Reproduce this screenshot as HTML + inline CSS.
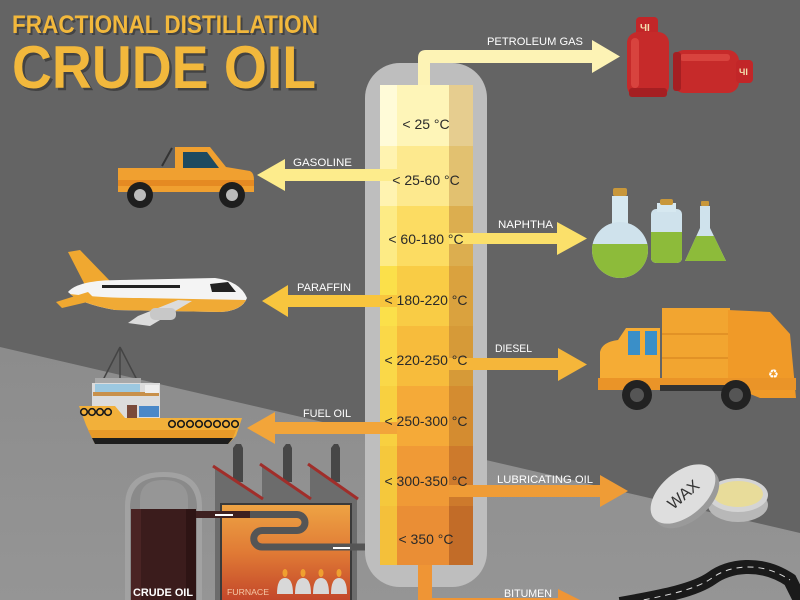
<!DOCTYPE html>
<html><head><meta charset="utf-8"><style>
html,body{margin:0;padding:0;width:800px;height:600px;overflow:hidden;background:#646464}
svg{display:block}
text{font-family:"Liberation Sans",sans-serif}
</style></head><body>
<svg width="800" height="600" viewBox="0 0 800 600" xmlns="http://www.w3.org/2000/svg">
<defs>
<linearGradient id="furn" x1="0" y1="0" x2="0" y2="1"><stop offset="0" stop-color="#eea444"/><stop offset="0.5" stop-color="#e07a35"/><stop offset="1" stop-color="#c2452a"/></linearGradient>
<linearGradient id="bgl" x1="0" y1="0" x2="0" y2="1"><stop offset="0" stop-color="#8c8c8c"/><stop offset="1" stop-color="#959595"/></linearGradient>
<clipPath id="fl1"><rect x="580" y="244" width="80" height="40"/></clipPath>
<clipPath id="fl2"><rect x="640" y="232" width="60" height="40"/></clipPath>
<clipPath id="fl3"><rect x="680" y="236" width="60" height="40"/></clipPath>
</defs>
<!-- background -->
<rect width="800" height="600" fill="#646464"/>
<polygon points="0,347 800,533 800,600 0,600" fill="url(#bgl)"/>

<!-- title -->
<text x="14" y="35" font-size="25" font-weight="bold" fill="#2e2e2e" opacity="0.6" textLength="306" lengthAdjust="spacingAndGlyphs">FRACTIONAL DISTILLATION</text>
<text x="12" y="33" font-size="25" font-weight="bold" fill="#f2b83c" textLength="306" lengthAdjust="spacingAndGlyphs">FRACTIONAL DISTILLATION</text>
<text x="14.5" y="90.5" font-size="60" font-weight="bold" fill="#2e2e2e" opacity="0.6" textLength="304" lengthAdjust="spacingAndGlyphs">CRUDE OIL</text>
<text x="12" y="88" font-size="60" font-weight="bold" fill="#f2b83c" textLength="304" lengthAdjust="spacingAndGlyphs">CRUDE OIL</text>

<!-- crude oil tank -->
<path d="M125 600 V506 Q125 472 163.5 472 Q202 472 202 506 V600 Z" fill="#a2a2a2"/>
<path d="M130 600 V508 Q130 477 163.5 477 Q197 477 197 508 V600 Z" fill="#8a8a8a"/>
<path d="M140 509 V500 Q140 480 163 480 Q188 480 188 500 V509 Z" fill="#969696"/>
<rect x="131" y="509" width="65" height="91" fill="#3b1c1c"/>
<rect x="131" y="509" width="10" height="91" fill="#4a2424"/>
<rect x="186" y="509" width="10" height="91" fill="#2e1414"/>
<text x="133" y="596" font-size="11" font-weight="bold" fill="#fff" textLength="60" lengthAdjust="spacingAndGlyphs">CRUDE OIL</text>

<!-- factory -->
<polygon points="233,482 233,448 236,444 241,444 243,448 243,482" fill="#474747"/>
<polygon points="283,482 283,448 286,444 290,444 292,448 292,482" fill="#474747"/>
<polygon points="331,482 331,448 334,444 338,444 340,448 340,482" fill="#474747"/>
<polygon points="215,600 215,467 262,498 262,465 310,498 310,465 357,498 357,600" fill="#6c6c6c"/>
<g stroke="#a02e2a" stroke-width="3"><line x1="213" y1="466" x2="263" y2="499"/><line x1="260" y1="464" x2="311" y2="499"/><line x1="308" y1="464" x2="358" y2="499"/></g>
<rect x="221" y="504" width="130" height="98" fill="url(#furn)" stroke="#3a3a3a" stroke-width="2"/>
<text x="227" y="595" font-size="8" fill="#f5c8a8" textLength="42" lengthAdjust="spacingAndGlyphs">FURNACE</text>
<g fill="#d8d8d8">
<path d="M277 594 Q277 578 285 578 Q293 578 293 594 Z"/>
<path d="M295 594 Q295 578 303 578 Q311 578 311 594 Z"/>
<path d="M313 594 Q313 578 321 578 Q329 578 329 594 Z"/>
<path d="M331 594 Q331 578 339 578 Q347 578 347 594 Z"/>
</g>
<g fill="#f0a030"><ellipse cx="285" cy="573" rx="2.5" ry="4"/><ellipse cx="303" cy="573" rx="2.5" ry="4"/><ellipse cx="321" cy="573" rx="2.5" ry="4"/><ellipse cx="339" cy="573" rx="2.5" ry="4"/></g>
<!-- pipe coil -->
<path d="M196 514.5 L297 514.5 A8 8 0 0 1 297 530.5 L262 530.5 A8.25 8.25 0 0 0 262 547 L380 547" fill="none" stroke="#555" stroke-width="7"/>
<path d="M196 514.5 L250 514.5" fill="none" stroke="#3e2020" stroke-width="7"/>
<line x1="215" y1="515" x2="233" y2="515" stroke="#fff" stroke-width="2"/>
<line x1="333" y1="548" x2="350" y2="548" stroke="#fff" stroke-width="2"/>

<!-- column -->
<rect x="365" y="63" width="122" height="524" rx="35" fill="#bebebe"/>
<g>
<rect x="380" y="85" width="93" height="61" fill="#fef5b8"/><rect x="380" y="85" width="17" height="61" fill="#fffbd8"/><rect x="449" y="85" width="24" height="61" fill="#e6cd8f"/>
<rect x="380" y="146" width="93" height="60" fill="#fde98e"/><rect x="380" y="146" width="17" height="60" fill="#fff3b0"/><rect x="449" y="146" width="24" height="60" fill="#e2c170"/>
<rect x="380" y="206" width="93" height="60" fill="#fcdc62"/><rect x="380" y="206" width="17" height="60" fill="#fdeb85"/><rect x="449" y="206" width="24" height="60" fill="#dcae4f"/>
<rect x="380" y="266" width="93" height="60" fill="#f9cc45"/><rect x="380" y="266" width="17" height="60" fill="#fbe04a"/><rect x="449" y="266" width="24" height="60" fill="#daa23e"/>
<rect x="380" y="326" width="93" height="60" fill="#f7bc3c"/><rect x="380" y="326" width="17" height="60" fill="#fad848"/><rect x="449" y="326" width="24" height="60" fill="#d69a38"/>
<rect x="380" y="386" width="93" height="60" fill="#f5aa38"/><rect x="380" y="386" width="17" height="60" fill="#f8d040"/><rect x="449" y="386" width="24" height="60" fill="#d48c30"/>
<rect x="380" y="446" width="93" height="60" fill="#f09a36"/><rect x="380" y="446" width="17" height="60" fill="#f5c83c"/><rect x="449" y="446" width="24" height="60" fill="#cd7a2c"/>
<rect x="380" y="506" width="93" height="59" fill="#ea8e35"/><rect x="380" y="506" width="17" height="59" fill="#f4c03a"/><rect x="449" y="506" width="24" height="59" fill="#c26c28"/>
</g>

<!-- arrows -->
<path d="M418 85 V58 Q418 50 426 50 H592 V40 L620 56.5 L592 73 V63 H430 V85 Z" fill="#fdf3b5"/>
<path d="M397 169 H285 V159 L257 175 L285 191 V181 H397 Z" fill="#fdec8c"/>
<path d="M449 233 H557 V222 L587 238.5 L557 255 V244 H449 Z" fill="#fbe06a"/>
<path d="M397 295 H288 V285 L262 301 L288 317 V307 H397 Z" fill="#f8c53e"/>
<path d="M449 358 H558 V348 L587 364.5 L558 381 V370 H449 Z" fill="#f5b63a"/>
<path d="M397 422 H275 V412 L247 428 L275 444 V434 H397 Z" fill="#f2a53a"/>
<path d="M449 485 H600 V475 L628 491 L600 507 V497 H449 Z" fill="#ef9c36"/>
<path d="M418 565 V600 H432 V565 Z" fill="#ef9535"/>
<path d="M425 598 H558 V589 L592 606 L558 623 V612 H425 Z" fill="#ef9535"/>

<!-- column labels -->
<g font-size="14" fill="#2a2a2a" text-anchor="middle">
<text x="426" y="129">&lt; 25 °C</text>
<text x="426" y="185">&lt; 25-60 °C</text>
<text x="426" y="244">&lt; 60-180 °C</text>
<text x="426" y="305">&lt; 180-220 °C</text>
<text x="426" y="365">&lt; 220-250 °C</text>
<text x="426" y="426">&lt; 250-300 °C</text>
<text x="426" y="486">&lt; 300-350 °C</text>
<text x="426" y="544">&lt; 350 °C</text>
</g>

<!-- arrow labels -->
<g font-size="11" fill="#fff">
<text x="487" y="45" textLength="96" lengthAdjust="spacingAndGlyphs">PETROLEUM GAS</text>
<text x="293" y="166" textLength="59" lengthAdjust="spacingAndGlyphs">GASOLINE</text>
<text x="498" y="228" textLength="55" lengthAdjust="spacingAndGlyphs">NAPHTHA</text>
<text x="297" y="291" textLength="54" lengthAdjust="spacingAndGlyphs">PARAFFIN</text>
<text x="495" y="352" textLength="37" lengthAdjust="spacingAndGlyphs">DIESEL</text>
<text x="303" y="417" textLength="48" lengthAdjust="spacingAndGlyphs">FUEL OIL</text>
<text x="497" y="483" textLength="96" lengthAdjust="spacingAndGlyphs">LUBRICATING OIL</text>
<text x="504" y="597" textLength="48" lengthAdjust="spacingAndGlyphs">BITUMEN</text>
</g>

<!-- gas cylinders -->
<rect x="636" y="17" width="22" height="20" rx="4" fill="#c22628"/>
<text x="640" y="31" font-size="10" font-weight="bold" fill="#f3e0b0">ЧI</text>
<rect x="627" y="32" width="42" height="65" rx="11" fill="#c62a2a"/>
<rect x="631" y="38" width="8" height="50" rx="4" fill="#d8433e"/>
<rect x="629" y="88" width="38" height="9" rx="3" fill="#a51f22"/>
<rect x="673" y="50" width="66" height="43" rx="11" fill="#c62a2a"/>
<rect x="680" y="54" width="50" height="7" rx="3" fill="#d8433e"/>
<rect x="673" y="52" width="8" height="39" rx="3" fill="#a51f22"/>
<rect x="736" y="60" width="17" height="23" rx="4" fill="#c22628"/>
<text x="739" y="75" font-size="9" font-weight="bold" fill="#f3e0b0">ЧI</text>

<!-- flasks -->
<rect x="612" y="196" width="16" height="32" fill="#d6e8f0"/>
<rect x="613" y="188" width="14" height="8" rx="2" fill="#c8973a"/>
<circle cx="620" cy="250" r="28" fill="#cfe2ec"/>
<circle cx="620" cy="250" r="28" fill="#8dbb3a" clip-path="url(#fl1)"/>
<rect x="651" y="209" width="31" height="54" rx="5" fill="#cfe2ec"/>
<rect x="651" y="209" width="31" height="54" rx="5" fill="#8dbb3a" clip-path="url(#fl2)"/>
<rect x="657" y="203" width="19" height="9" fill="#d6e8f0"/>
<rect x="660" y="199" width="13" height="6" rx="2" fill="#c8973a"/>
<polygon points="700,206 710,206 710,228 726,261 685,261 700,228" fill="#cfe2ec"/>
<polygon points="700,206 710,206 710,228 726,261 685,261 700,228" fill="#8dbb3a" clip-path="url(#fl3)"/>
<rect x="701" y="201" width="8" height="5" rx="1" fill="#c8973a"/>

<!-- pickup truck -->
<path d="M118 168 H175 V147 H210 L226 167 L250 171 Q254 173 254 180 V192 H118 Z" fill="#f0a030"/>
<rect x="118" y="180" width="136" height="6" fill="#e58a22"/>
<polygon points="183,152 207,152 219,168 183,168" fill="#1e4a60"/>
<line x1="162" y1="166" x2="172" y2="148" stroke="#333" stroke-width="2"/>
<circle cx="140" cy="195" r="13" fill="#1e1e1e"/><circle cx="140" cy="195" r="6" fill="#bbb"/>
<circle cx="232" cy="195" r="13" fill="#1e1e1e"/><circle cx="232" cy="195" r="6" fill="#bbb"/>

<!-- airplane -->
<polygon points="68,252 80,250 110,281 86,287" fill="#f0a830"/>
<path d="M68 292 Q78 280 120 280 L215 278 Q240 281 247 298 Q242 311 220 312 L115 310 Q80 304 68 292 Z" fill="#f4f4f4"/>
<path d="M70 294 Q100 298 140 298 L246 300 Q240 311 220 312 L115 310 Q82 304 70 294 Z" fill="#f0aa35"/>
<polygon points="56,302 88,292 96,300 62,308" fill="#f0a830"/>
<polygon points="128,323 138,316 178,300 192,301 150,326" fill="#dcdcdc"/>
<rect x="150" y="308" width="26" height="12" rx="5" fill="#c8c8c8"/>
<g fill="#222"><rect x="102" y="285" width="78" height="3"/></g>
<polygon points="210,284 228,282 236,292 212,292" fill="#222"/>

<!-- ship -->
<line x1="120" y1="347" x2="103" y2="380" stroke="#444" stroke-width="1.5"/>
<line x1="120" y1="347" x2="137" y2="380" stroke="#444" stroke-width="1.5"/>
<line x1="120" y1="347" x2="120" y2="380" stroke="#444" stroke-width="1.5"/>
<rect x="95" y="378" width="46" height="6" fill="#a8a8a8"/>
<rect x="92" y="383" width="68" height="35" fill="#dcdcdc"/>
<rect x="95" y="384" width="45" height="8" fill="#9cc8e0"/>
<rect x="93" y="392" width="66" height="4" fill="#c8904a"/>
<rect x="145" y="385" width="14" height="8" fill="#eee"/>
<rect x="127" y="405" width="10" height="13" fill="#7a4a3a"/>
<rect x="139" y="406" width="20" height="11" fill="#4a88c8"/>
<polygon points="79,406 115,406 125,418 242,418 236,436 228,444 95,444 86,425" fill="#f2b03a"/>
<polygon points="88,430 236,430 233,438 92,438" fill="#e89a28"/>
<polygon points="92,438 233,438 228,444 95,444" fill="#1e1e1e"/>
<g fill="none" stroke="#1a1a1a" stroke-width="1.6">
<circle cx="84" cy="412" r="3.3"/><circle cx="92" cy="412" r="3.3"/><circle cx="100" cy="412" r="3.3"/><circle cx="108" cy="412" r="3.3"/>
<circle cx="172" cy="424" r="3.3"/><circle cx="181" cy="424" r="3.3"/><circle cx="190" cy="424" r="3.3"/><circle cx="199" cy="424" r="3.3"/><circle cx="208" cy="424" r="3.3"/><circle cx="217" cy="424" r="3.3"/><circle cx="226" cy="424" r="3.3"/><circle cx="235" cy="424" r="3.3"/>
</g>

<!-- garbage truck -->
<rect x="662" y="308" width="68" height="77" fill="#f2a530"/>
<g stroke="#dc8c22" stroke-width="1.5"><line x1="662" y1="334" x2="730" y2="334"/><line x1="662" y1="358" x2="730" y2="358"/></g>
<polygon points="728,310 770,312 790,334 796,398 760,398 728,385" fill="#f09a28"/>
<path d="M600 388 V352 Q602 342 618 340 L626 328 H660 V388 Z" fill="#f5ac35"/>
<rect x="628" y="331" width="12" height="24" fill="#3a8fc8"/>
<rect x="645" y="331" width="12" height="24" fill="#3a8fc8"/>
<rect x="598" y="378" width="198" height="12" fill="#ea9428"/>
<rect x="660" y="385" width="70" height="6" fill="#333"/>
<text x="768" y="378" font-size="12" fill="#fff">♻</text>
<circle cx="637" cy="395" r="15" fill="#222"/><circle cx="637" cy="395" r="7" fill="#555"/>
<circle cx="736" cy="395" r="15" fill="#222"/><circle cx="736" cy="395" r="7" fill="#555"/>

<!-- wax tin -->
<ellipse cx="738" cy="505" rx="30" ry="17" fill="#b8b8b8"/>
<ellipse cx="738" cy="495" rx="30" ry="17" fill="#d4d4d4"/>
<ellipse cx="738" cy="494" rx="25" ry="13" fill="#e8dc9a"/>
<g transform="rotate(-40 683 494)">
<ellipse cx="683" cy="500" rx="38" ry="22" fill="#9a9a9a"/>
<ellipse cx="683" cy="494" rx="38" ry="22" fill="#dedede"/>
<text x="683" y="500" font-size="16" fill="#333" text-anchor="middle">WAX</text>
</g>

<!-- road -->
<path d="M620 604 C665 596 695 590 712 578 C728 566 760 560 790 580 L800 600" fill="none" stroke="#1a1a1a" stroke-width="14"/>
<path d="M622 604 C665 596 695 590 712 578 C728 566 760 560 790 580" fill="none" stroke="#ddd" stroke-width="1" stroke-dasharray="6 5"/>
</svg>
</body></html>
